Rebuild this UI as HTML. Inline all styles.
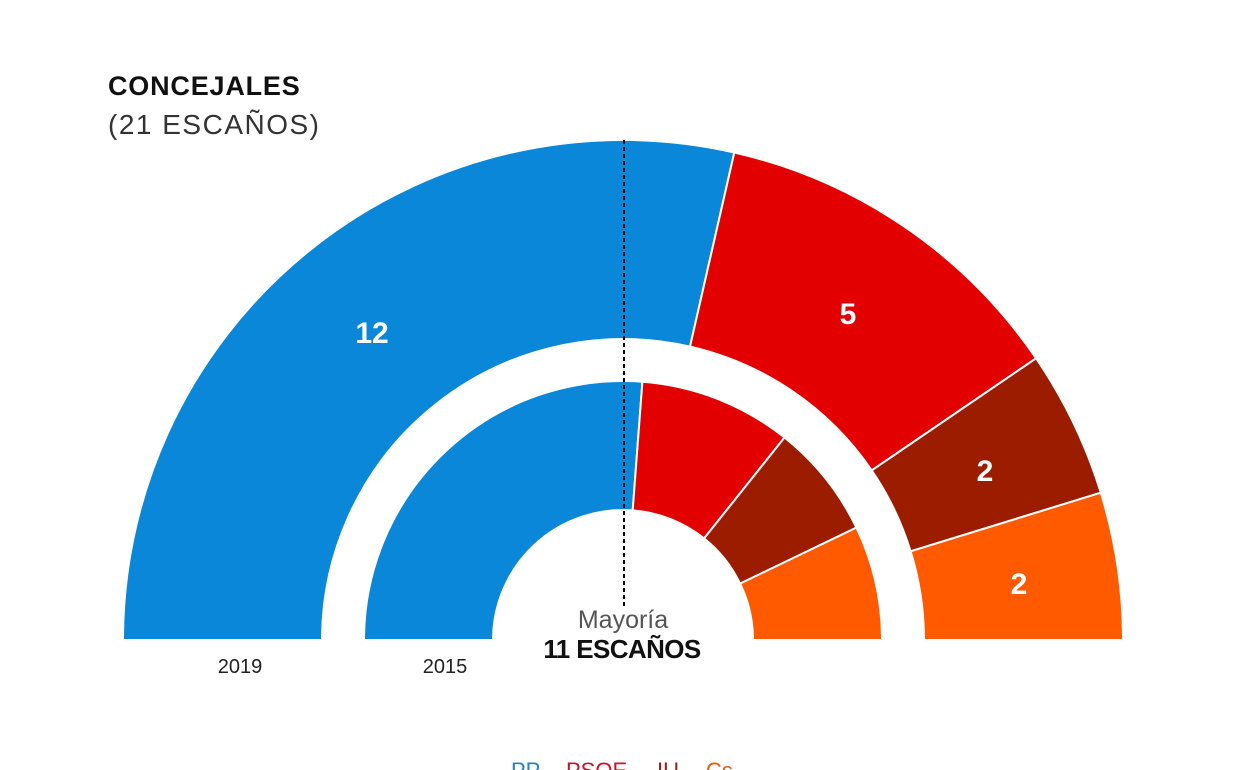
<!DOCTYPE html>
<html><head><meta charset="utf-8"><style>
html,body{margin:0;padding:0;background:#fff;width:1248px;height:770px;overflow:hidden}
svg{display:block}
text{font-family:"Liberation Sans",sans-serif}
</style></head><body>
<svg width="1248" height="770" viewBox="0 0 1248 770">
<g stroke="#fff" stroke-width="2">
<path d="M123,640 A500,500 0 0 1 734.3,152.5 L690,346.6 A301,301 0 0 0 322,640 Z" fill="#0a87d9"/>
<path d="M734.3,152.5 A500,500 0 0 1 1036.1,358.3 L871.7,470.4 A301,301 0 0 0 690,346.6 Z" fill="#e30000"/>
<path d="M1036.1,358.3 A500,500 0 0 1 1100.8,492.7 L910.6,551.3 A301,301 0 0 0 871.7,470.4 Z" fill="#9c1c00"/>
<path d="M1100.8,492.7 A500,500 0 0 1 1123,640 L924,640 A301,301 0 0 0 910.6,551.3 Z" fill="#ff5a00"/>
<path d="M364,640 A259,259 0 0 1 642.4,381.7 L632.7,510.4 A130,130 0 0 0 493,640 Z" fill="#0a87d9"/>
<path d="M642.4,381.7 A259,259 0 0 1 784.5,437.5 L704.1,538.4 A130,130 0 0 0 632.7,510.4 Z" fill="#e30000"/>
<path d="M784.5,437.5 A259,259 0 0 1 856.4,527.6 L740.1,583.6 A130,130 0 0 0 704.1,538.4 Z" fill="#9c1c00"/>
<path d="M856.4,527.6 A259,259 0 0 1 882,640 L753,640 A130,130 0 0 0 740.1,583.6 Z" fill="#ff5a00"/>
</g>
<line x1="624" y1="140" x2="624" y2="606" stroke="#000" stroke-width="2" stroke-dasharray="4,3"/>
<g fill="#fff" font-weight="bold" font-size="30" text-anchor="middle">
<text x="372" y="343">12</text>
<text x="848" y="324">5</text>
<text x="985" y="481">2</text>
<text x="1019" y="594">2</text>
</g>
<text x="108" y="95" font-size="27" font-weight="bold" fill="#111" letter-spacing="0.8">CONCEJALES</text>
<text x="108" y="134" font-size="28" fill="#333" letter-spacing="1.5">(21 ESCAÑOS)</text>
<text x="240" y="673" font-size="20" fill="#222" text-anchor="middle">2019</text>
<text x="445" y="673" font-size="20" fill="#222" text-anchor="middle">2015</text>
<text x="623" y="628" font-size="25" fill="#555" text-anchor="middle">Mayoría</text>
<text x="622" y="658" font-size="26" font-weight="bold" fill="#111" text-anchor="middle" letter-spacing="-0.6">11 ESCAÑOS</text>
<g font-size="22">
<text x="511" y="778" fill="#2a80c0">PP</text>
<text x="566" y="778" fill="#d0102a">PSOE</text>
<text x="657" y="778" fill="#a01c10">IU</text>
<text x="706" y="778" fill="#e85a10">Cs</text>
</g>
</svg>
</body></html>
